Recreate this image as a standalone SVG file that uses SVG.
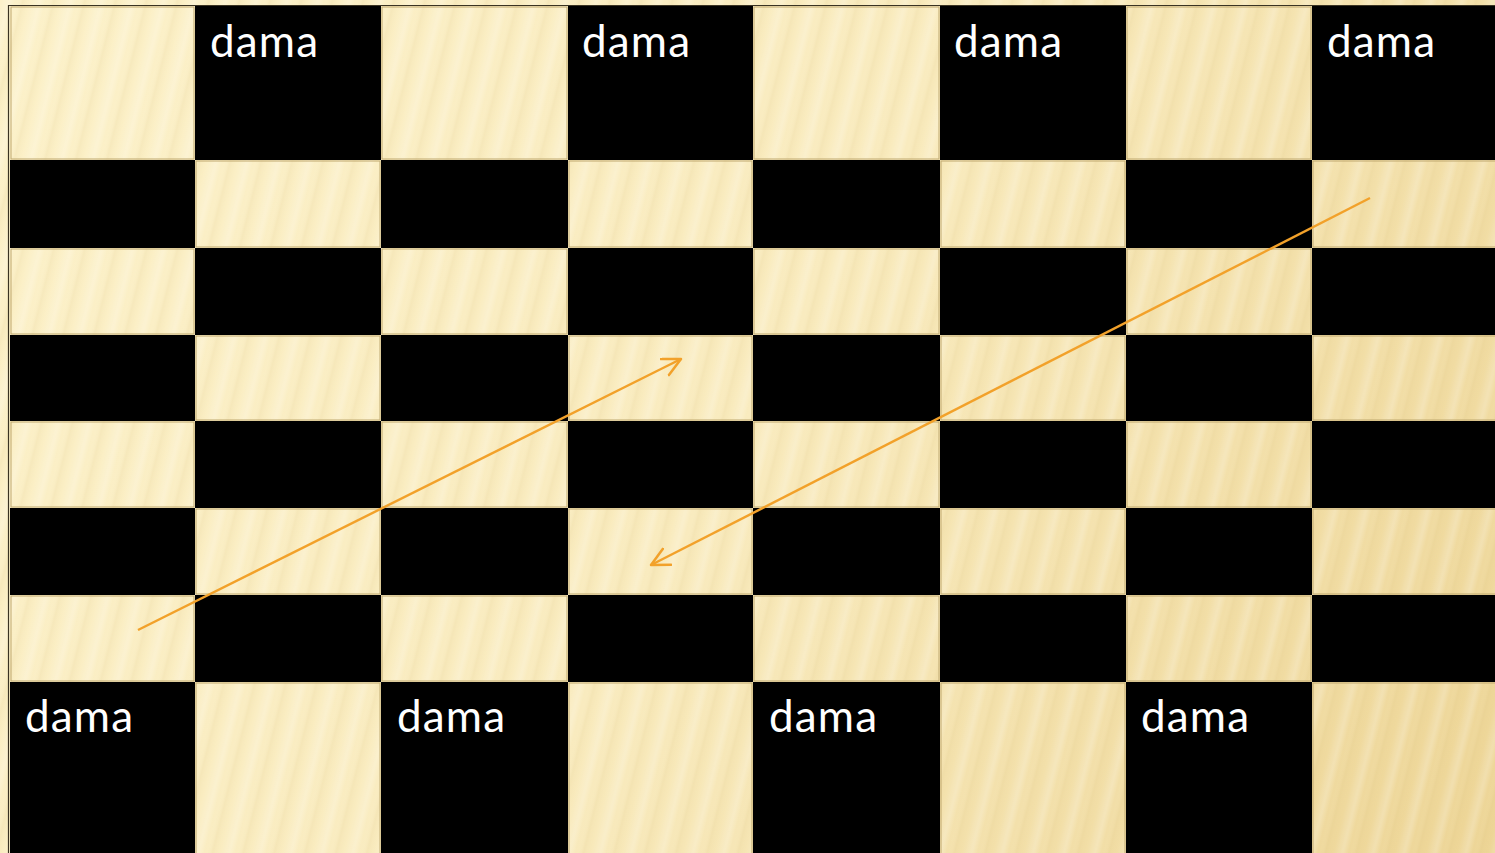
<svg xmlns="http://www.w3.org/2000/svg" width="1495" height="853" viewBox="0 0 1495 853">
<defs>
<linearGradient id="bg" gradientUnits="userSpaceOnUse" x1="0" y1="0" x2="1495" y2="853">
<stop offset="0" stop-color="#FCF1C9"/>
<stop offset="0.5" stop-color="#F9EBBE"/>
<stop offset="1" stop-color="#EDD596"/>
</linearGradient>
<linearGradient id="soft" x1="0" y1="0" x2="1" y2="0">
<stop offset="0" stop-color="#FFFFFF" stop-opacity="0"/>
<stop offset="0.3" stop-color="#FFFFFF" stop-opacity="0.22"/>
<stop offset="0.5" stop-color="#FFFFFF" stop-opacity="0"/>
<stop offset="0.75" stop-color="#D8BE7A" stop-opacity="0.12"/>
<stop offset="1" stop-color="#D8BE7A" stop-opacity="0"/>
</linearGradient>
<pattern id="stripes" patternUnits="userSpaceOnUse" width="30" height="30" patternTransform="rotate(14)">
<rect x="0" y="0" width="30" height="30" fill="url(#soft)"/>
</pattern>
<marker id="open" markerUnits="userSpaceOnUse" markerWidth="24" markerHeight="24" refX="19" refY="10" orient="auto">
<path d="M1,1 L19,10 L1,19" fill="none" stroke="#F2A12A" stroke-width="2.5" stroke-linecap="round" stroke-linejoin="round"/>
</marker>
</defs>
<style>
.lt{fill:none;stroke:#BFA86F;stroke-width:1}
.dk{fill:#000000}
.lbl{font-family:Lato,"Open Sans","Liberation Sans",sans-serif;font-size:44px;fill:#FFFFFF}
.arr{fill:none;stroke:#F2A12A;stroke-width:2.4;marker-end:url(#open)}
</style>
<rect x="0" y="0" width="1495" height="853" fill="url(#bg)"/>
<rect x="0" y="0" width="1495" height="853" fill="url(#stripes)"/>
<path d="M8.5,853 L8.5,5.5 L1495,5.5" fill="none" stroke="#3A3322" stroke-width="1.2"/>
<g id="board">
<g id="row1">
<rect class="lt" x="11" y="7" width="183" height="152"/>
<rect class="dk" x="195" y="6" width="186" height="154"/>
<rect class="lt" x="382" y="7" width="185" height="152"/>
<rect class="dk" x="568" y="6" width="185" height="154"/>
<rect class="lt" x="754" y="7" width="185" height="152"/>
<rect class="dk" x="940" y="6" width="186" height="154"/>
<rect class="lt" x="1127" y="7" width="184" height="152"/>
<rect class="dk" x="1312" y="6" width="186" height="154"/>
</g>
<g id="row2">
<rect class="dk" x="10" y="160" width="185" height="88"/>
<rect class="lt" x="196" y="161" width="184" height="86"/>
<rect class="dk" x="381" y="160" width="187" height="88"/>
<rect class="lt" x="569" y="161" width="183" height="86"/>
<rect class="dk" x="753" y="160" width="187" height="88"/>
<rect class="lt" x="941" y="161" width="184" height="86"/>
<rect class="dk" x="1126" y="160" width="186" height="88"/>
<rect class="lt" x="1313" y="161" width="184" height="86"/>
</g>
<g id="row3">
<rect class="lt" x="11" y="249" width="183" height="85"/>
<rect class="dk" x="195" y="248" width="186" height="87"/>
<rect class="lt" x="382" y="249" width="185" height="85"/>
<rect class="dk" x="568" y="248" width="185" height="87"/>
<rect class="lt" x="754" y="249" width="185" height="85"/>
<rect class="dk" x="940" y="248" width="186" height="87"/>
<rect class="lt" x="1127" y="249" width="184" height="85"/>
<rect class="dk" x="1312" y="248" width="186" height="87"/>
</g>
<g id="row4">
<rect class="dk" x="10" y="335" width="185" height="86"/>
<rect class="lt" x="196" y="336" width="184" height="84"/>
<rect class="dk" x="381" y="335" width="187" height="86"/>
<rect class="lt" x="569" y="336" width="183" height="84"/>
<rect class="dk" x="753" y="335" width="187" height="86"/>
<rect class="lt" x="941" y="336" width="184" height="84"/>
<rect class="dk" x="1126" y="335" width="186" height="86"/>
<rect class="lt" x="1313" y="336" width="184" height="84"/>
</g>
<g id="row5">
<rect class="lt" x="11" y="422" width="183" height="85"/>
<rect class="dk" x="195" y="421" width="186" height="87"/>
<rect class="lt" x="382" y="422" width="185" height="85"/>
<rect class="dk" x="568" y="421" width="185" height="87"/>
<rect class="lt" x="754" y="422" width="185" height="85"/>
<rect class="dk" x="940" y="421" width="186" height="87"/>
<rect class="lt" x="1127" y="422" width="184" height="85"/>
<rect class="dk" x="1312" y="421" width="186" height="87"/>
</g>
<g id="row6">
<rect class="dk" x="10" y="508" width="185" height="87"/>
<rect class="lt" x="196" y="509" width="184" height="85"/>
<rect class="dk" x="381" y="508" width="187" height="87"/>
<rect class="lt" x="569" y="509" width="183" height="85"/>
<rect class="dk" x="753" y="508" width="187" height="87"/>
<rect class="lt" x="941" y="509" width="184" height="85"/>
<rect class="dk" x="1126" y="508" width="186" height="87"/>
<rect class="lt" x="1313" y="509" width="184" height="85"/>
</g>
<g id="row7">
<rect class="lt" x="11" y="596" width="183" height="85"/>
<rect class="dk" x="195" y="595" width="186" height="87"/>
<rect class="lt" x="382" y="596" width="185" height="85"/>
<rect class="dk" x="568" y="595" width="185" height="87"/>
<rect class="lt" x="754" y="596" width="185" height="85"/>
<rect class="dk" x="940" y="595" width="186" height="87"/>
<rect class="lt" x="1127" y="596" width="184" height="85"/>
<rect class="dk" x="1312" y="595" width="186" height="87"/>
</g>
<g id="row8">
<rect class="dk" x="10" y="682" width="185" height="175"/>
<rect class="lt" x="196" y="683" width="184" height="175"/>
<rect class="dk" x="381" y="682" width="187" height="175"/>
<rect class="lt" x="569" y="683" width="183" height="175"/>
<rect class="dk" x="753" y="682" width="187" height="175"/>
<rect class="lt" x="941" y="683" width="184" height="175"/>
<rect class="dk" x="1126" y="682" width="186" height="175"/>
<rect class="lt" x="1313" y="683" width="184" height="175"/>
</g>
</g>
<g id="labels">
<g id="dama-t1"><text class="lbl" x="210" y="57" textLength="108">dama</text></g>
<g id="dama-t2"><text class="lbl" x="582" y="57" textLength="108">dama</text></g>
<g id="dama-t3"><text class="lbl" x="954" y="57" textLength="108">dama</text></g>
<g id="dama-t4"><text class="lbl" x="1327" y="57" textLength="108">dama</text></g>
<g id="dama-b1"><text class="lbl" x="25" y="732" textLength="108">dama</text></g>
<g id="dama-b2"><text class="lbl" x="397" y="732" textLength="108">dama</text></g>
<g id="dama-b3"><text class="lbl" x="769" y="732" textLength="108">dama</text></g>
<g id="dama-b4"><text class="lbl" x="1141" y="732" textLength="108">dama</text></g>
</g>
<g id="connectors">
<line class="arr" x1="138" y1="630" x2="681" y2="359"/>
<line class="arr" x1="1370" y1="198" x2="651" y2="565"/>
</g>
</svg>
